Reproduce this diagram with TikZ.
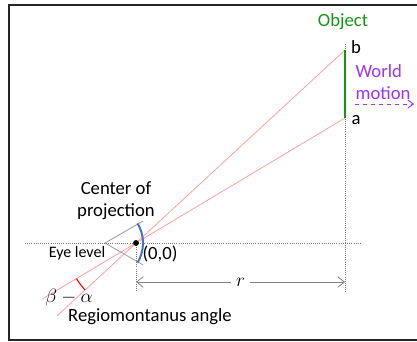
\documentclass[tikz,border=0pt]{standalone}
\usepackage{fontspec}
\setmainfont{Carlito}
\usetikzlibrary{arrows.meta,calc,angles}
\definecolor{objgreen}{RGB}{20,150,20}
\definecolor{motionpurple}{RGB}{153,51,255}
\definecolor{lensblue}{RGB}{68,114,196}
\definecolor{raypink}{RGB}{255,160,160}
\definecolor{guidegray}{RGB}{120,120,120}
\tikzset{txt/.style={font=\fontsize{14}{16.5}\selectfont,inner sep=1pt},smalltxt/.style={font=\fontsize{12}{14}\selectfont,inner sep=1pt},ray/.style={raypink,line width=0.6pt},guide/.style={guidegray,densely dotted,line width=0.6pt},eyeline/.style={gray!80,line width=0.6pt},dim/.style={{Straight Barb[length=5pt,width=8pt]}-{Straight Barb[length=5pt,width=8pt]},gray,line width=0.6pt},frame/.style={draw=black!85,line width=1.5pt}}

\begin{document}
\begin{tikzpicture}[x=0.75pt,y=-0.75pt]
\useasboundingbox (0,0) rectangle (417,342);
\draw[frame] (422,5)--(9,5)--(9,340)--(422,340);
\coordinate (O) at (136,243);
\coordinate (E) at (105,243);
\coordinate (b) at (345,50);
\coordinate (a) at (345,118);
\coordinate (bext) at ($(b)!1.378!(O)$);
\coordinate (aext) at ($(a)!1.45!(O)$);
\coordinate (eyeL) at (25,243);
\coordinate (eyeR) at (360,243);
\coordinate (Odown) at (136,292);
\coordinate (btop) at (345,44);
\coordinate (abot) at (345,292);
\coordinate (rL) at (136,282);
\coordinate (rR) at (345,282);
\coordinate (mS) at (355,104);
\coordinate (mE) at (414,104);
\coordinate (lidU) at ($(E)+(-30:44)$);
\coordinate (lidD) at ($(E)+(30:44)$);
% dotted guides
\draw[guide] (eyeL)--(eyeR);
\draw[guide] (O)--(Odown);
\draw[guide] (btop)--(abot);
% rays through the centre of projection
\draw[ray] (b)--(bext);
\draw[ray] (a)--(aext);
\pic[draw=red,line width=0.8pt,angle radius=52pt] {angle=aext--O--bext};
% eye
\draw[eyeline] (lidU)--(E)--(lidD);
\draw[lensblue,line width=1.5pt] ([shift={(-31:38)}]E) arc[start angle=-31,end angle=31,radius=38];
\fill (O) circle[radius=2.2pt];
% object and motion
\draw[objgreen,line width=2.2pt] (a)--(b);
\draw[motionpurple,dashed,line width=0.7pt,-{Straight Barb[length=4pt,width=6pt]}] (mS)--(mE);
\draw[dim] (rL)--(rR) node[midway,fill=white,txt,text=black,inner sep=4pt] (rlbl) {$r$};
\node[txt,align=center] (cop) at (116,201) {Center of\\projection};
\node[smalltxt] (eyelevel) at (77,253) {Eye level};
\node[txt] (origin) at (160,254) {(0,0)};
\node[txt] (angletxt) at (69,298) {$\beta-\alpha$};
\node[txt] (regio) at (150,317) {Regiomontanus angle};
\node[txt,objgreen] (objtxt) at (343,22) {Object};
\node[txt] (blbl) at (356,47) {b};
\node[txt] (albl) at (356,120) {a};
\node[txt,motionpurple,align=left,anchor=west] (motion) at (354,82) {World\\motion};
\end{tikzpicture}
\end{document}
